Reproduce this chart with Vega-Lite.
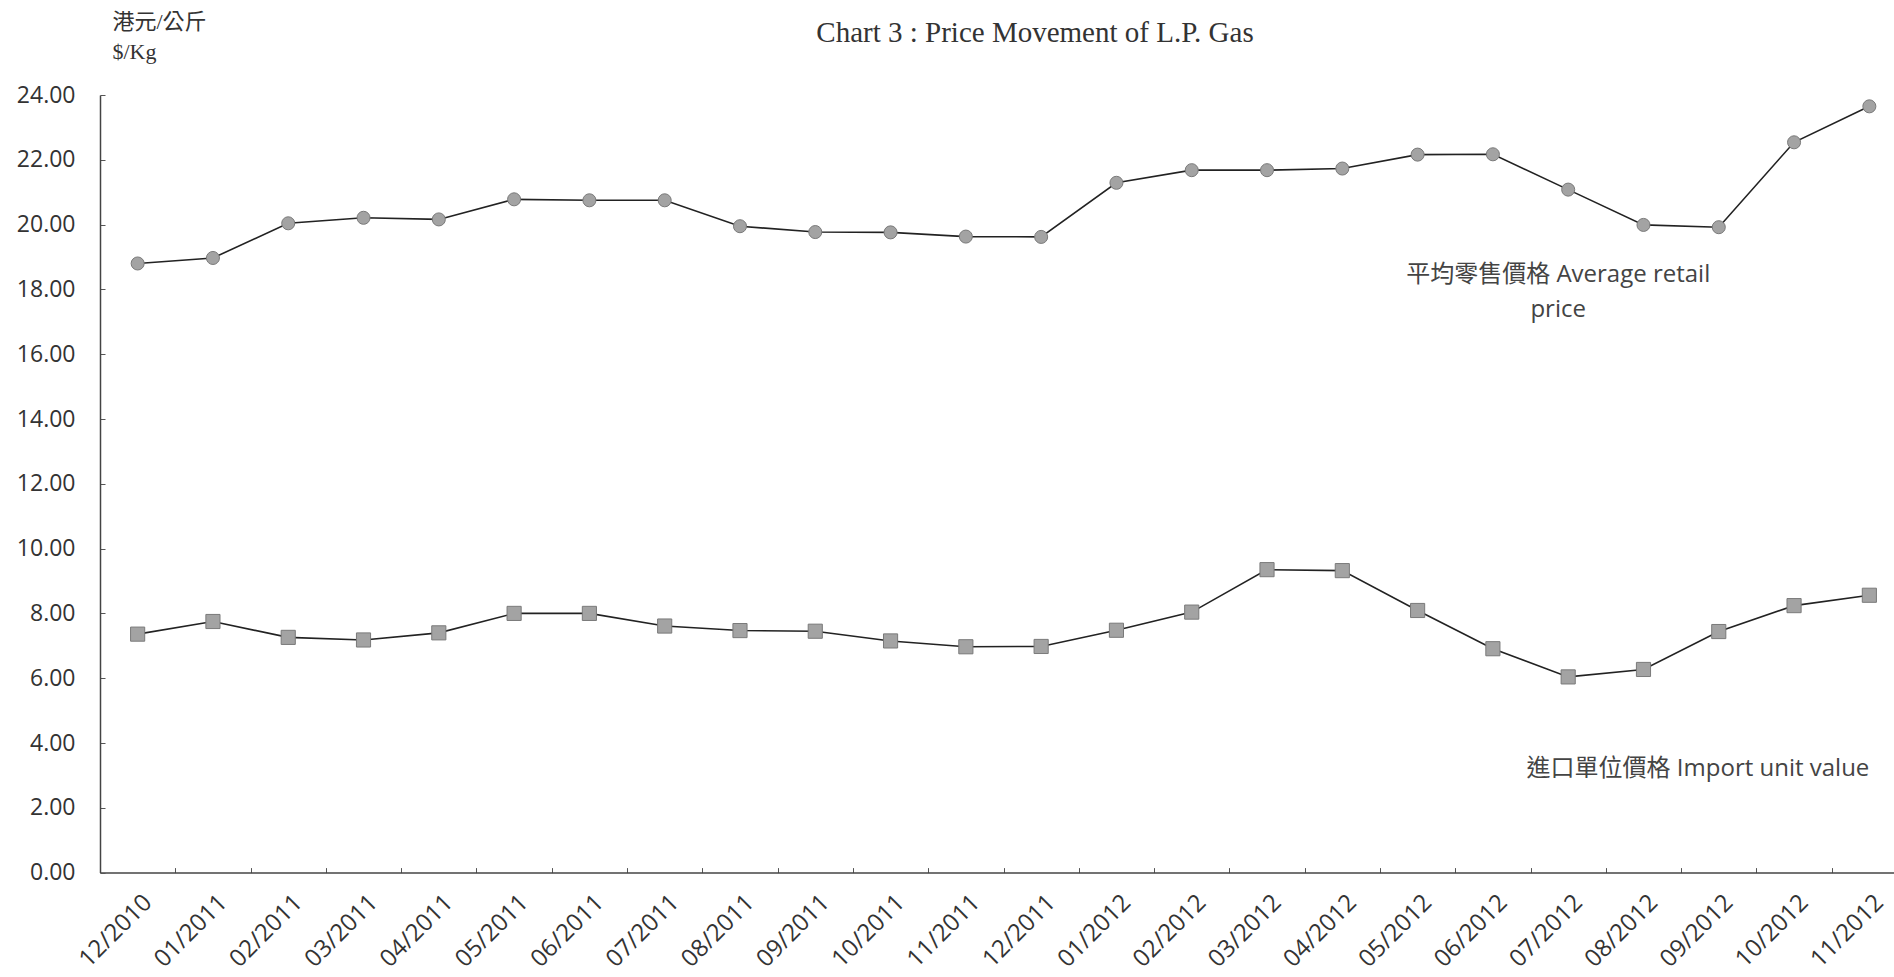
{
  "$schema": "https://vega.github.io/schema/vega-lite/v6.json",
  "autosize": {"type": "none"},
  "width": 1794,
  "height": 777.6,
  "padding": {"left": 100, "top": 95, "right": 0, "bottom": 104.4},
  "background": "white",
  "config": {"view": {"stroke": null}, "font": "Open Sans"},
  "title": {
    "text": "Chart 3 :  Price Movement of L.P. Gas",
    "font": "Liberation Serif",
    "fontSize": 29,
    "fontWeight": "normal",
    "color": "#333333",
    "anchor": "middle",
    "dx": 38,
    "offset": -38
  },
  "datasets": {
    "prices": [
      {"month": "12/2010", "series": "retail", "price": 18.80},
      {"month": "01/2011", "series": "retail", "price": 18.97},
      {"month": "02/2011", "series": "retail", "price": 20.04},
      {"month": "03/2011", "series": "retail", "price": 20.21},
      {"month": "04/2011", "series": "retail", "price": 20.16},
      {"month": "05/2011", "series": "retail", "price": 20.78},
      {"month": "06/2011", "series": "retail", "price": 20.75},
      {"month": "07/2011", "series": "retail", "price": 20.75},
      {"month": "08/2011", "series": "retail", "price": 19.95},
      {"month": "09/2011", "series": "retail", "price": 19.77},
      {"month": "10/2011", "series": "retail", "price": 19.76},
      {"month": "11/2011", "series": "retail", "price": 19.63},
      {"month": "12/2011", "series": "retail", "price": 19.62},
      {"month": "01/2012", "series": "retail", "price": 21.29},
      {"month": "02/2012", "series": "retail", "price": 21.68},
      {"month": "03/2012", "series": "retail", "price": 21.68},
      {"month": "04/2012", "series": "retail", "price": 21.73},
      {"month": "05/2012", "series": "retail", "price": 22.16},
      {"month": "06/2012", "series": "retail", "price": 22.17},
      {"month": "07/2012", "series": "retail", "price": 21.08},
      {"month": "08/2012", "series": "retail", "price": 19.99},
      {"month": "09/2012", "series": "retail", "price": 19.92},
      {"month": "10/2012", "series": "retail", "price": 22.54},
      {"month": "11/2012", "series": "retail", "price": 23.65},
      {"month": "12/2010", "series": "import", "price": 7.36},
      {"month": "01/2011", "series": "import", "price": 7.75},
      {"month": "02/2011", "series": "import", "price": 7.26},
      {"month": "03/2011", "series": "import", "price": 7.18},
      {"month": "04/2011", "series": "import", "price": 7.40},
      {"month": "05/2011", "series": "import", "price": 8.00},
      {"month": "06/2011", "series": "import", "price": 8.00},
      {"month": "07/2011", "series": "import", "price": 7.61},
      {"month": "08/2011", "series": "import", "price": 7.47},
      {"month": "09/2011", "series": "import", "price": 7.45},
      {"month": "10/2011", "series": "import", "price": 7.15},
      {"month": "11/2011", "series": "import", "price": 6.97},
      {"month": "12/2011", "series": "import", "price": 6.98},
      {"month": "01/2012", "series": "import", "price": 7.48},
      {"month": "02/2012", "series": "import", "price": 8.04},
      {"month": "03/2012", "series": "import", "price": 9.35},
      {"month": "04/2012", "series": "import", "price": 9.32},
      {"month": "05/2012", "series": "import", "price": 8.09},
      {"month": "06/2012", "series": "import", "price": 6.91},
      {"month": "07/2012", "series": "import", "price": 6.04},
      {"month": "08/2012", "series": "import", "price": 6.27},
      {"month": "09/2012", "series": "import", "price": 7.44},
      {"month": "10/2012", "series": "import", "price": 8.24},
      {"month": "11/2012", "series": "import", "price": 8.56}
    ],
    "retailLabel": [
      {"month": "07/2012", "price": 18.45, "label": ["平均零售價格 Average retail", "price"]}
    ],
    "importLabel": [
      {"month": "11/2012", "price": 3.2, "label": "進口單位價格 Import unit value"}
    ]
  },
  "encoding": {
    "x": {
      "field": "month",
      "type": "ordinal",
      "sort": null,
      "scale": {"type": "band", "range": [0, 1807], "paddingInner": 0, "paddingOuter": 0},
      "axis": {
        "title": null,
        "labelAngle": -45,
        "labelAlign": "right",
        "labelBaseline": "middle",
        "labelFont": "Open Sans",
        "labelFontSize": 24,
        "labelColor": "#333333",
        "labelPadding": 31,
        "labelOffset": 10,
        "tickBand": "extent",
        "tickSize": -5,
        "tickColor": "#555555",
        "domainColor": "#444444",
        "domainWidth": 1.5,
        "labelOverlap": false
      }
    },
    "y": {
      "field": "price",
      "type": "quantitative",
      "scale": {"domain": [0, 24], "nice": false, "zero": true},
      "axis": {
        "title": ["港元/公斤", "$/Kg"],
        "titleFont": "Liberation Serif, Noto Sans CJK TC",
        "titleFontSize": 22,
        "titleFontWeight": "normal",
        "titleColor": "#333333",
        "titleAngle": 0,
        "titleAlign": "left",
        "titleBaseline": "top",
        "titleLineHeight": 30,
        "titleX": 12,
        "titleY": -84,
        "values": [0, 2, 4, 6, 8, 10, 12, 14, 16, 18, 20, 22, 24],
        "format": ".2f",
        "labelFont": "Open Sans",
        "labelFontSize": 23,
        "labelColor": "#333333",
        "labelPadding": 30,
        "tickSize": -5,
        "tickColor": "#555555",
        "domainColor": "#444444",
        "domainWidth": 1.5,
        "grid": false
      }
    }
  },
  "layer": [
    {
      "mark": {"type": "rule", "color": "#444444", "strokeWidth": 1.5},
      "encoding": {"y": {"datum": 24}, "x": {"value": 0}, "x2": {"value": 1794}}
    },
    {
      "data": {"name": "prices"},
      "mark": {"type": "line", "color": "#222222", "strokeWidth": 1.6},
      "encoding": {"detail": {"field": "series"}}
    },
    {
      "data": {"name": "prices"},
      "mark": {"type": "point", "filled": true, "fill": "#a3a3a3", "stroke": "#7a7a7a", "strokeWidth": 1, "opacity": 1},
      "encoding": {
        "shape": {"field": "series", "type": "nominal", "scale": {"domain": ["retail", "import"], "range": ["circle", "square"]}, "legend": null},
        "size": {"field": "series", "type": "nominal", "scale": {"domain": ["retail", "import"], "range": [170, 200]}, "legend": null}
      }
    },
    {
      "data": {"name": "retailLabel"},
      "mark": {"type": "text", "font": "Open Sans, Noto Sans CJK TC", "fontSize": 24, "color": "#444444", "lineHeight": 35, "baseline": "middle", "align": "center", "dx": -10},
      "encoding": {"text": {"field": "label"}}
    },
    {
      "data": {"name": "importLabel"},
      "mark": {"type": "text", "font": "Open Sans, Noto Sans CJK TC", "fontSize": 24, "color": "#444444", "baseline": "middle", "align": "right", "dx": 0},
      "encoding": {"text": {"field": "label"}}
    }
  ]
}
